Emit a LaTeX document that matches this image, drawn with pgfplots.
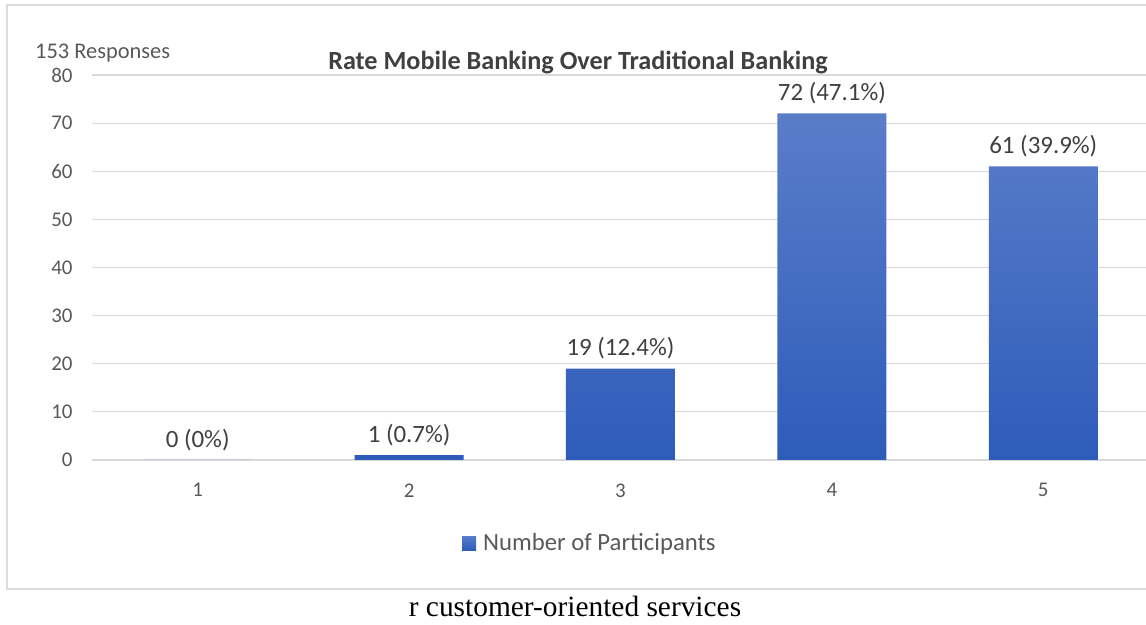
\documentclass[border=0pt]{standalone}
\usepackage{fontspec}
\setmainfont{Carlito}
\newfontfamily\timesfont{Liberation Serif}
\usepackage{pgfplots}
\pgfplotsset{compat=1.18}
\definecolor{txtgray}{HTML}{595959}
\definecolor{lblgray}{HTML}{404040}
\definecolor{gridgray}{HTML}{D9D9D9}
\definecolor{framegray}{HTML}{DCDCDC}
\definecolor{bartop}{HTML}{5A7DC9}
\definecolor{barbot}{HTML}{2E5CBA}
\begin{document}
\begin{tikzpicture}
\useasboundingbox (0,0) rectangle (1146bp,625bp);
\clip (0,0) rectangle (1146bp,625bp);
\fill[white] (0,0) rectangle (1146bp,625bp);
\draw[framegray, line width=2bp] (7bp,36bp) rectangle (1170bp,620bp);
\begin{axis}[
  at={(92bp,165bp)}, anchor=south west,
  scale only axis, width=1057bp, height=385bp,
  xmin=0.5, xmax=5.5, ymin=0, ymax=80,
  ybar, bar width=109bp,
  axis line style={draw=none},
  ytick={0,10,...,80}, xtick={1,2,3,4,5},
  ymajorgrids, grid style={gridgray, line width=1.2bp},
  major tick length=0pt,
  /pgf/number format/assume math mode=true,
  tick label style={font=\fontsize{21}{24}\selectfont, text=txtgray},
  yticklabel style={xshift=-16bp},
  xticklabel style={yshift=-20bp},
  nodes near coords,
  point meta=explicit symbolic,
  nodes near coords style={font=\fontsize{25}{29}\selectfont, text=lblgray, yshift=6bp},
  legend style={at={(0.471,-0.2156)}, anchor=center, draw=none, fill=none,
    font=\fontsize{24.8}{29}\selectfont, text=txtgray},
  legend image code/.code={\fill[barbot!90!white] (0bp,-7bp) rectangle (14bp,7bp); \path (19bp,0bp);},
  clip=false,
]
\addplot[draw=none, top color=bartop, bottom color=barbot]
  coordinates {(1,0) [0 (0\%)] (2,1) [1 (0.7\%)] (3,19) [19 (12.4\%)] (4,72) [72 (47.1\%)] (5,61) [61 (39.9\%)]};
\addlegendentry{Number of Participants}
\end{axis}
\node[anchor=base, font=\fontsize{26.3}{30}\selectfont\bfseries, text=lblgray] at (578bp,555bp) {Rate Mobile Banking Over Traditional Banking};
\node[anchor=base west, inner sep=0pt, font=\fontsize{22.5}{26}\selectfont, text=txtgray] at (35bp,566bp) {153 Responses};
\node[anchor=base, inner sep=0pt, font=\timesfont\fontsize{29.5}{34}\selectfont] at (575bp,9bp) {r customer-oriented services};
\end{tikzpicture}
\end{document}
